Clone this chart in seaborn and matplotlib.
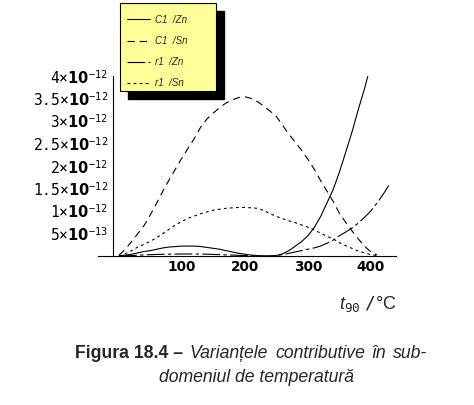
import pandas as pd
import matplotlib
matplotlib.use("Agg")
import matplotlib.pyplot as plt
from matplotlib.lines import Line2D
from matplotlib.patches import Rectangle
from matplotlib.offsetbox import TextArea, HPacker, AnchoredOffsetbox
import seaborn as sns

# ---------- DATA (variances, in units of 1e-12) ----------
SCALE = 1e-12

t_sn = [0, 10, 20, 30, 40, 50, 60, 70, 80, 90, 100, 110, 120, 130, 140, 150, 160,
        170, 180, 190, 200, 210, 220, 230, 240, 250, 260, 270, 280, 290, 300, 310,
        320, 330, 340, 350, 360, 370, 380, 390, 400, 410]
c1_sn = [0.02, 0.15, 0.32, 0.50, 0.68, 0.92, 1.18, 1.45, 1.70, 1.94, 2.18, 2.40,
         2.62, 2.87, 3.05, 3.18, 3.30, 3.40, 3.47, 3.52, 3.54, 3.50, 3.43, 3.33,
         3.22, 3.10, 2.90, 2.70, 2.53, 2.35, 2.15, 1.93, 1.68, 1.45, 1.22, 0.95,
         0.75, 0.56, 0.38, 0.22, 0.09, 0.02]
r1_sn = [0.00, 0.05, 0.12, 0.20, 0.26, 0.33, 0.41, 0.50, 0.60, 0.69, 0.77, 0.84,
         0.89, 0.94, 0.98, 1.02, 1.04, 1.06, 1.07, 1.08, 1.08, 1.07, 1.06, 1.01,
         0.94, 0.88, 0.83, 0.78, 0.74, 0.69, 0.64, 0.58, 0.51, 0.44, 0.38, 0.30,
         0.23, 0.17, 0.11, 0.07, 0.03, 0.01]

t_c1zn = [0, 10, 20, 30, 40, 50, 60, 70, 80, 90, 100, 110, 120, 130, 140, 150, 160,
          170, 180, 190, 200, 210, 220, 230, 240, 250, 260, 270, 280, 290, 300, 310,
          320, 330, 340, 350, 360, 370, 380, 390, 400]
c1_zn = [0.00, 0.02, 0.04, 0.07, 0.10, 0.12, 0.15, 0.18, 0.20, 0.21, 0.22, 0.22,
         0.22, 0.21, 0.19, 0.17, 0.15, 0.12, 0.09, 0.06, 0.04, 0.02, 0.01, 0.00,
         0.00, 0.01, 0.05, 0.12, 0.22, 0.32, 0.45, 0.63, 0.87, 1.17, 1.47, 1.86,
         2.30, 2.75, 3.25, 3.72, 4.25]

t_r1zn = [0, 20, 40, 60, 80, 100, 120, 140, 160, 180, 200, 220, 240, 250, 260, 270,
          280, 290, 300, 310, 320, 330, 340, 350, 360, 370, 380, 390, 400, 410, 420, 430]
r1_zn = [0.000, 0.010, 0.025, 0.035, 0.040, 0.045, 0.045, 0.040, 0.030, 0.020,
         0.010, 0.000, 0.000, 0.010, 0.030, 0.060, 0.090, 0.120, 0.150, 0.180,
         0.220, 0.280, 0.350, 0.450, 0.530, 0.620, 0.730, 0.860, 1.000, 1.180,
         1.380, 1.600]

series = ["C1  /Zn", "C1  /Sn", "r1  /Zn", "r1  /Sn"]
x_ticks = [100, 200, 300, 400]
y_ticks = [0.5, 1, 1.5, 2, 2.5, 3, 3.5, 4]
y_mantissa = ["5", "1", "1.5", "2", "2.5", "3", "3.5", "4"]
y_exponent = ["-13", "-12", "-12", "-12", "-12", "-12", "-12", "-12"]
caption_words = ["Varianțele", "contributive", "în", "sub-"]

frames = []
for name, t, v in [(series[0], t_c1zn, c1_zn), (series[1], t_sn, c1_sn),
                   (series[2], t_r1zn, r1_zn), (series[3], t_sn, r1_sn)]:
    frames.append(pd.DataFrame({"t": t, "v": [x * SCALE for x in v], "series": name}))
df = pd.concat(frames, ignore_index=True)

dash_map = {series[0]: "", series[1]: (6.5, 4.5), series[2]: (16, 3, 3, 3), series[3]: (2.5, 3.0)}

# ---------- STYLE ----------
sns.set_style("white")
plt.rcParams["font.family"] = ["Liberation Sans", "DejaVu Sans"]
plt.rcParams["mathtext.fontset"] = "custom"
plt.rcParams["mathtext.rm"] = "DejaVu Sans Mono"
plt.rcParams["mathtext.tt"] = "DejaVu Sans Mono"
plt.rcParams["mathtext.it"] = "Liberation Sans:italic"
plt.rcParams["mathtext.bf"] = "DejaVu Sans:bold"

fig = plt.figure(figsize=(4.74, 4.05), dpi=100)
ax = fig.add_axes([97.6 / 474, 1 - 256 / 405, 298.4 / 474, 180 / 405])

sns.lineplot(data=df, x="t", y="v", style="series", style_order=series,
             dashes=dash_map, color="black", linewidth=0.8, estimator=None,
             sort=False, legend=False, ax=ax)

ax.set_xlim(-34, 440)
ax.set_ylim(0, 4.0e-12)
ax.spines["left"].set_position(("data", -10))
ax.spines["bottom"].set_position(("data", 0))
ax.spines["top"].set_visible(False)
ax.spines["right"].set_visible(False)
for s in ("left", "bottom"):
    ax.spines[s].set_linewidth(0.8)
    ax.spines[s].set_color("black")

ax.set_xticks(x_ticks)
ax.set_xticklabels([str(x) for x in x_ticks], fontfamily="DejaVu Sans",
                   fontweight="bold", fontsize=9.8)
ax.set_yticks([y * SCALE for y in y_ticks])
y_labels = [m + "×" + r"$\mathbf{10}^{\mathtt{" + e + "}}$" for m, e in zip(y_mantissa, y_exponent)]
ax.set_yticklabels(y_labels, fontfamily="DejaVu Sans Mono", fontsize=10.5)
ax.tick_params(axis="both", direction="in", length=2.5, width=0.6, colors="black")
ax.tick_params(axis="x", pad=3)
ax.tick_params(axis="y", pad=3.5)

ax.set_xlabel(r"$\mathit{t}_{\mathit{90}}$ $\mathit{/}$°C", fontsize=13)
ax.xaxis.set_label_coords(0.905, -0.21)
ax.set_ylabel("")

# ---------- LEGEND (yellow box with black shadow) ----------
ax.add_patch(Rectangle((128 / 474, 1 - 99 / 405), 96 / 474, 88 / 405,
                       transform=fig.transFigure, facecolor="black",
                       edgecolor="black", zorder=4, clip_on=False))
ax.add_patch(Rectangle((120 / 474, 1 - 91 / 405), 96 / 474, 88 / 405,
                       transform=fig.transFigure, facecolor="#ffff99",
                       edgecolor="black", linewidth=0.8, zorder=4.5, clip_on=False))
handles = [Line2D([], [], color="black", linewidth=0.8,
                  linestyle="-" if dash_map[s] == "" else (0, dash_map[s]))
           for s in series]
ax.legend(handles, series, loc="upper left", bbox_to_anchor=(122 / 474, 1 - 10 / 405),
          bbox_transform=fig.transFigure, frameon=False, borderpad=0,
          prop={"size": 7, "style": "italic"}, handlelength=2.4,
          handletextpad=0.45, labelspacing=1.15)

# ---------- CAPTION (first line justified) ----------
ital = dict(fontsize=12.7, fontstyle="italic")
words = [TextArea(w, textprops=ital) for w in caption_words]
italic_line = HPacker(children=words, align="baseline", pad=0, sep=4.8)
ta1 = TextArea("Figura 18.4 –", textprops=dict(fontsize=12.7, fontweight="bold"))
box = HPacker(children=[ta1, italic_line], align="baseline", pad=0, sep=5.0)
anch = AnchoredOffsetbox(loc="center left", child=box, pad=0, borderpad=0, frameon=False,
                         bbox_to_anchor=(75 / 474, 1 - 353 / 405),
                         bbox_transform=fig.transFigure)
fig.add_artist(anch)
fig.text(256.5 / 474, 1 - 382 / 405, "domeniul de temperatură", ha="center", va="baseline", **ital)

plt.savefig("out.png", dpi=100)
